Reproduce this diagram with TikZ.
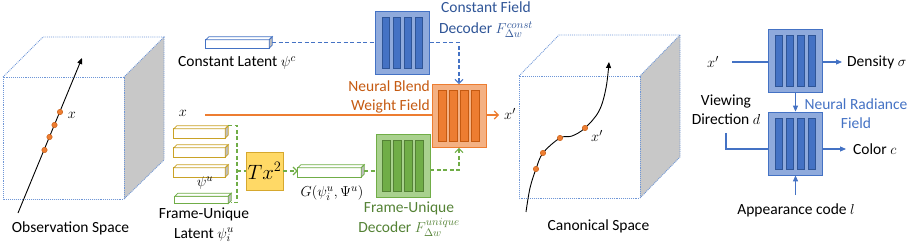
\documentclass[tikz,border=0pt]{standalone}
\usepackage{fontspec}
\setmainfont{Carlito}
\usetikzlibrary{arrows.meta,calc}
\definecolor{blueM}{HTML}{4472C4}
\definecolor{blueL}{HTML}{8FAADC}
\definecolor{blueD}{HTML}{2F5597}
\definecolor{orangeM}{HTML}{ED7D31}
\definecolor{orangeL}{HTML}{F4B183}
\definecolor{orangeD}{HTML}{C55A11}
\definecolor{greenM}{HTML}{70AD47}
\definecolor{greenL}{HTML}{A9D18E}
\definecolor{greenD}{HTML}{548235}
\definecolor{goldC}{HTML}{C9A227}
\definecolor{txFill}{HTML}{FFD966}
\definecolor{txDraw}{HTML}{D6A82E}
\definecolor{cubeC}{RGB}{110,150,215}
\definecolor{faceC}{RGB}{200,200,200}
\definecolor{sideC}{RGB}{190,190,190}
\newcommand\mlp[3]{%
  \node[mlpbox, fill=#3L, draw=#3M] (#1) at (#2) {};
  \foreach \dx [count=\k] in {-16.5,-5.5,5.5,16.5}{%
    \node[mlpbar, fill=#3M, draw=#3D] (#1-bar\k) at ([xshift=\dx pt]#1.center) {};}%
}
\newcommand\latent[5]{%
  \node[inner sep=0, minimum width=#3, minimum height=#4] (#1) at (#2) {};
  \draw[#5, fill=white, line width=0.8pt] ([yshift=-3pt]#1.north west) rectangle ([xshift=-3pt]#1.south east);
  \draw[#5, fill=white, line width=0.8pt] ([yshift=-3pt]#1.north west) -- ([xshift=3pt]#1.north west) -- (#1.north east) -- ([xshift=-3pt,yshift=-3pt]#1.north east) -- cycle;
  \draw[#5, fill=sideC, line width=0.8pt] ([xshift=-3pt,yshift=-3pt]#1.north east) -- (#1.north east) -- ([yshift=3pt]#1.south east) -- ([xshift=-3pt]#1.south east) -- cycle;
}
\begin{document}
\begin{tikzpicture}[x=1pt,y=-1pt,
  font=\fontsize{15.5}{19}\selectfont,
  mlpbox/.style={rectangle, minimum width=54pt, minimum height=63pt, inner sep=0, line width=0.8pt},
  mlpbar/.style={rectangle, minimum width=7.5pt, minimum height=51pt, inner sep=0, line width=0.6pt},
  cubeline/.style={densely dotted, draw=cubeC, line width=0.9pt},
  bdash/.style={blueM, dash pattern=on 4pt off 2.5pt, line width=1.1pt},
  gdash/.style={greenM, dash pattern=on 4pt off 2.5pt, line width=1.1pt},
  barb/.style={-{Straight Barb[length=4pt,width=8pt]}},
  tri/.style={-{Triangle[length=6pt,width=5pt]}},
  lbl/.style={inner sep=0, align=center},
  dot/.style={circle, fill=orangeM, draw=orangeD, line width=0.4pt, minimum size=5.5pt, inner sep=0},
  nerf/.style={blueM, line width=1.1pt}
]
\useasboundingbox (0,0) rectangle (913,243);

% ---------- observation space cube ----------
\fill[faceC] (124,77) -- (164,37) -- (164,160) -- (124,199) -- cycle;
\draw[cubeline] (3,77) rectangle (124,199);
\draw[cubeline] (3,77) -- (43,37) -- (164,37) -- (124,77);
\draw[cubeline] (164,37) -- (164,160) -- (124,199);
\coordinate (obsA) at (18,213);
\coordinate (obsB) at (82,58);
\draw[tri, line width=0.9pt] (obsA) -- (obsB);
\node[dot] (od1) at (60,112) {};
\node[dot] (od2) at (54.5,125) {};
\node[dot] (od3) at (49.5,137) {};
\node[dot] (od4) at (44.5,150) {};
\node[lbl] (ox) at (72,115) {$x$};
\node[lbl] (obsT) at (70.5,228) {Observation Space};

% ---------- canonical space cube ----------
\fill[faceC] (640,76) -- (680,35) -- (680,157) -- (640,198) -- cycle;
\draw[cubeline] (519,76) rectangle (640,198);
\draw[cubeline] (519,76) -- (559,35) -- (680,35) -- (640,76);
\draw[cubeline] (680,35) -- (680,157) -- (640,198);
\draw[tri, line width=0.9pt] plot[smooth, tension=0.6] coordinates {(526,212) (530,188) (536,169) (543,153) (560,138) (572,136) (585,128) (599,111) (606,88) (609,62)};
\node[dot] (cd1) at (536,169) {};
\node[dot] (cd2) at (543,153) {};
\node[dot] (cd3) at (560,138) {};
\node[dot] (cd4) at (585,128) {};
\node[lbl] (cx) at (597,136) {$x'$};
\node[lbl] (csT) at (598.5,226) {Canonical Space};

% ---------- constant latent & decoder ----------
\latent{cl}{239,42.5}{66pt}{11pt}{blueM}
\node[lbl] (clT) at (237,63) {Constant Latent $\psi^c$};
\mlp{cdec}{402.5,42.5}{blue}
\node[lbl, text=blueD] (cdecT) at (486,19.5) {Constant Field\\[2pt]Decoder $F^{const}_{\Delta w}$};
\draw[bdash] (cl.east) -- (cdec.west);

% ---------- neural blend weight field ----------
\mlp{nbw}{459,116}{orange}
\node[lbl, text=orangeD, align=right, anchor=east] (nbwT) at (430,96.5) {Neural Blend\\Weight Field};
\draw[bdash, barb] (cdec.east) -| (nbw.north);
\node[lbl] (xl) at (183,113) {$x$};
\coordinate (xs) at (205,115);
\draw[orangeM, line width=1.1pt] (xs) -- (xs -| nbw.west);
\coordinate (xe) at (499,115);
\draw[orangeM, line width=1.1pt, barb] (xe -| nbw.east) -- (xe);
\node[lbl] (xp) at (510,114) {$x'$};

% ---------- frame-unique latents ----------
\latent{y1}{201,132}{54pt}{12pt}{goldC}
\latent{y2}{201,151}{54pt}{12pt}{goldC}
\latent{y3}{201,171}{54pt}{12pt}{goldC}
\node[lbl] (psiu) at (205,183) {$\psi^u$};
\latent{gl}{203,198.5}{56pt}{10pt}{greenM}
\node[lbl] (fuT) at (204,224.5) {Frame-Unique\\[1pt]Latent $\psi_i^u$};
\coordinate (brk) at (237,171);
\draw[gdash] (y1.north east) -| (brk) |- ([yshift=1pt]gl.south east);
\node[rectangle, minimum width=37pt, minimum height=38pt, inner sep=0, fill=txFill, draw=txDraw, line width=0.8pt, font=\fontsize{20}{22}\selectfont] (tx) at (264.5,171) {$Tx^2$};
\draw[gdash] (brk) -- (tx.west);
\latent{G}{331,171}{66pt}{12pt}{greenM}
\draw[gdash, barb] (tx.east) -- (G.west);
\node[lbl] (gT) at (332,193) {$G(\psi_i^u,\Psi^u)$};
\mlp{gdec}{403,166}{green}
\node[lbl, text=greenD] (gdecT) at (409,219.5) {Frame-Unique\\[1pt]Decoder $F^{unique}_{\Delta w}$};
\draw[gdash] (G.east) -- (G.east -| gdec.west);
\draw[gdash, barb] ([yshift=-4pt]gdec.east) -| (nbw.south);

% ---------- NeRF ----------
\mlp{na}{795.5,61}{blue}
\mlp{nb}{795.5,143.5}{blue}
\node[lbl] (nx) at (713,62) {$x'$};
\coordinate (nxs) at (732,62);
\draw[nerf] (nxs) -- (nxs -| na.west);
\coordinate (dne) at (842,62);
\draw[nerf, tri] (dne -| na.east) -- (dne);
\node[lbl, anchor=west] (dens) at (847,62) {Density $\sigma$};
\draw[nerf, tri] (na.south) -- (nb.north);
\node[lbl, text=blueM] (nrfT) at (856,114) {Neural Radiance\\Field};
\node[lbl] (vdT) at (726,110) {Viewing\\Direction $d$};
\coordinate (vds) at (726,133);
\coordinate (cne) at (846,149);
\draw[nerf] (vds) |- (cne -| nb.west);
\draw[nerf, tri] (cne -| nb.east) -- (cne);
\node[lbl, anchor=west] (colT) at (853,149) {Color $c$};
\coordinate (aps) at (795.5,195);
\draw[nerf, tri] (aps) -- (nb.south);
\node[lbl] (apT) at (796,210) {Appearance code $l$};
\end{tikzpicture}
\end{document}
